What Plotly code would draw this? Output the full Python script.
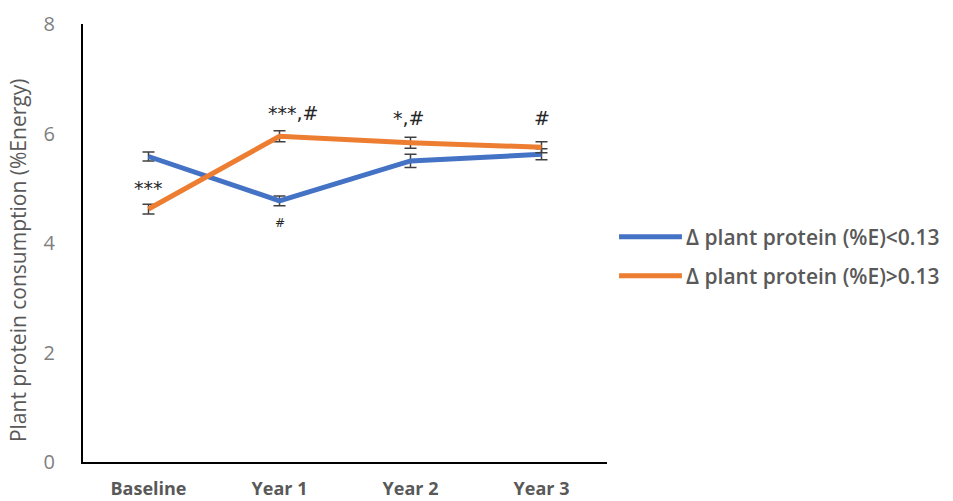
import plotly.graph_objects as go

# Survey time points
categories = ["Baseline", "Year 1", "Year 2", "Year 3"]

# Mean plant protein intake (%Energy) and standard errors per group
low_change_mean = [5.58, 4.77, 5.50, 5.62]
low_change_err = [0.08, 0.09, 0.12, 0.10]
high_change_mean = [4.62, 5.95, 5.83, 5.75]
high_change_err = [0.09, 0.10, 0.10, 0.10]

low_label = "Δ plant protein (%E)<0.13"
high_label = "Δ plant protein (%E)>0.13"
y_title = "Plant protein consumption (%Energy)"

# Significance markers: (category, series value, text, x shift, y shift, size)
sig_marks = [
    ("Baseline", high_change_mean[0], "***", 0, 21, 19),
    ("Year 1", high_change_mean[1], "***,#", 13, 23, 19),
    ("Year 2", high_change_mean[2], "*,#", -2, 25, 19),
    ("Year 3", high_change_mean[3], "#", 0, 29, 19),
    ("Year 1", low_change_mean[1], "#", 0, -22, 12),
]

BLUE = "#4472C4"
ORANGE = "#ED7D31"
GRAY = "#595959"

series = [
    (low_label, low_change_mean, low_change_err, BLUE),
    (high_label, high_change_mean, high_change_err, ORANGE),
]

fig = go.Figure()
for name, mean, err, color in series:
    fig.add_trace(go.Scatter(
        x=categories, y=mean, name=name, mode="lines",
        line=dict(color=color, width=5),
        error_y=dict(type="data", array=err, visible=True,
                     color="#404040", thickness=1.5, width=6),
    ))

for cat, val, txt, dx, dy, size in sig_marks:
    fig.add_annotation(x=cat, y=val, text=txt, showarrow=False,
                       xshift=dx, yshift=dy,
                       font=dict(family="DejaVu Sans", size=size, color="#262626"))

# Legend to the right of the plot: a line sample plus its label per series
legend_rows = [0.514, 0.425]
for (name, _, _, color), ly in zip(series, legend_rows):
    fig.add_shape(type="line", xref="paper", yref="paper",
                  x0=1.023, x1=1.143, y0=ly, y1=ly,
                  line=dict(color=color, width=5))
    fig.add_annotation(xref="paper", yref="paper", x=1.146, y=ly,
                       xanchor="left", yanchor="middle", text=name,
                       showarrow=False,
                       font=dict(family="Open Sans", size=21, color=GRAY, weight=600))

# Vertical axis title, set slightly below the middle of the plot
fig.add_annotation(xref="paper", yref="paper", x=-0.124, y=0.461,
                   xanchor="center", yanchor="middle", textangle=-90,
                   text=y_title, showarrow=False,
                   font=dict(family="Open Sans", size=21, color=GRAY))

fig.update_layout(
    width=953, height=501,
    margin=dict(l=83, r=346, t=24, b=39),
    plot_bgcolor="white", paper_bgcolor="white",
    font=dict(family="Open Sans", color=GRAY),
    showlegend=False,
    xaxis=dict(
        type="category", range=[-0.5, 3.5], automargin=False,
        showline=True, linecolor="black", linewidth=2,
        showgrid=False, ticks="", ticklabelstandoff=9,
        tickfont=dict(size=18, color=GRAY, weight="bold"),
    ),
    yaxis=dict(
        range=[0, 8], tickvals=[0, 2, 4, 6, 8], automargin=False,
        showline=True, linecolor="black", linewidth=2,
        showgrid=False, zeroline=False, ticks="", ticklabelstandoff=22,
        tickfont=dict(size=20, color="#7f7f7f"),
    ),
)

fig.write_html("out.html")
